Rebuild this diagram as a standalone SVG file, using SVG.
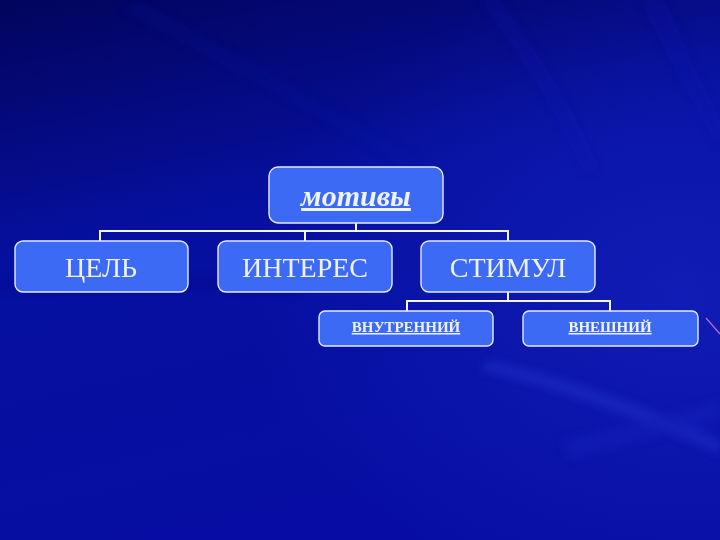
<svg xmlns="http://www.w3.org/2000/svg" width="720" height="540" viewBox="0 0 720 540">
  <defs>
    <linearGradient id="bg" x1="0" y1="0" x2="0.3" y2="1">
      <stop offset="0" stop-color="#02045C"/>
      <stop offset="0.45" stop-color="#0610A0"/>
      <stop offset="1" stop-color="#070DA2"/>
    </linearGradient>
    <radialGradient id="glow" cx="0.95" cy="0.55" r="0.6">
      <stop offset="0" stop-color="#1A2AC8" stop-opacity="0.5"/>
      <stop offset="1" stop-color="#1A2AC8" stop-opacity="0"/>
    </radialGradient>
    <filter id="blur" x="-20%" y="-20%" width="140%" height="140%">
      <feGaussianBlur stdDeviation="4"/>
    </filter>
    <style>
      .box { fill: #3D6AF4; stroke: #E4ECFF; stroke-width: 1.4; }
      .conn { stroke: #F4F6FF; stroke-width: 2; fill: none; }
      .lbl { font-family: "Liberation Serif", "Times New Roman", serif; fill: #EEF3FF; text-anchor: middle; }
      .big { font-size: 28px; }
      .small { font-size: 15px; font-weight: bold; text-decoration: underline; }
      .title { font-size: 30px; font-weight: bold; font-style: italic; text-decoration: underline; }
    </style>
  </defs>

  <!-- background -->
  <rect x="0" y="0" width="720" height="540" fill="url(#bg)"/>
  <rect x="0" y="0" width="720" height="540" fill="url(#glow)"/>
  <g filter="url(#blur)" opacity="0.35">
    <path d="M490 360 Q600 385 720 440 L720 455 Q600 400 480 370 Z" fill="#2A40D8"/>
    <path d="M560 440 Q650 420 720 400 L720 420 Q650 440 570 460 Z" fill="#1E30C8" opacity="0.7"/>
    <path d="M500 0 Q560 80 600 170 L585 175 Q545 85 480 0 Z" fill="#0F1CB8" opacity="0.5"/>
    <path d="M640 0 Q680 80 720 150 L720 120 Q690 60 665 0 Z" fill="#0F1CB8" opacity="0.5"/>
    <path d="M140 0 Q300 90 420 160 L410 170 Q290 100 120 10 Z" fill="#0A14A8" opacity="0.4"/>
    <path d="M0 280 Q150 270 300 285 L300 295 Q150 282 0 292 Z" fill="#02067A" opacity="0.6"/>
  </g>
  <line x1="706" y1="318" x2="720" y2="334" stroke="#B070D8" stroke-width="1.2"/>

  <!-- connectors -->
  <g id="connectors">
    <path class="conn" d="M356 223 V231 M100 242 V231 H508 V242 M305 231 V242"/>
    <path class="conn" d="M508 292 V301 M407 311 V301 H610 V311"/>
  </g>

  <g id="node-motivy">
    <rect class="box" x="269" y="167" width="174" height="56" rx="9"/>
    <text class="lbl title" x="356" y="206">мотивы</text>
  </g>
  <g id="node-cel">
    <rect class="box" x="15" y="241" width="173" height="51" rx="8"/>
    <text class="lbl big" x="101" y="277">ЦЕЛЬ</text>
  </g>
  <g id="node-interes">
    <rect class="box" x="218" y="241" width="174" height="51" rx="8"/>
    <text class="lbl big" x="305" y="277">ИНТЕРЕС</text>
  </g>
  <g id="node-stimul">
    <rect class="box" x="421" y="241" width="174" height="51" rx="8"/>
    <text class="lbl big" x="508" y="277">СТИМУЛ</text>
  </g>
  <g id="node-vnutrenniy">
    <rect class="box" x="319" y="311" width="174" height="35" rx="6"/>
    <text class="lbl small" x="406" y="332">ВНУТРЕННИЙ</text>
  </g>
  <g id="node-vneshniy">
    <rect class="box" x="523" y="311" width="175" height="35" rx="6"/>
    <text class="lbl small" x="610" y="332">ВНЕШНИЙ</text>
  </g>
</svg>
